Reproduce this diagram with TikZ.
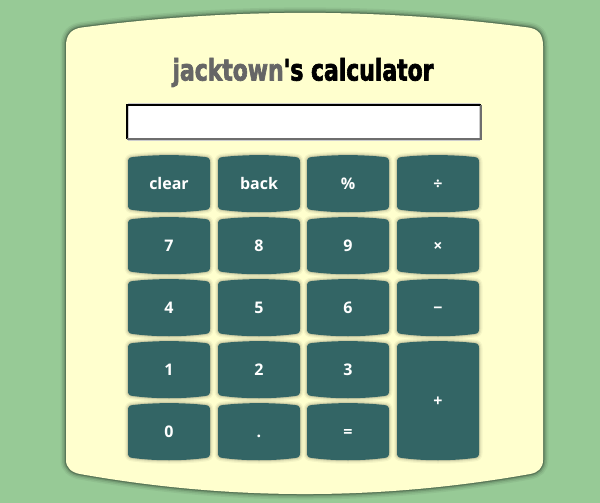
\documentclass[tikz,border=0pt]{standalone}
\usepackage{fontspec}
\usepackage{tikz}
\usetikzlibrary{positioning}
\newfontfamily\titlefont{DejaVu Sans Condensed}[FakeBold=2.5]
\newfontfamily\keyfont{Open Sans}
\definecolor{pagegreen}{RGB}{151,202,150}
\definecolor{bodycream}{RGB}{255,255,206}
\definecolor{keyteal}{RGB}{51,101,101}
\definecolor{titlegray}{RGB}{102,102,102}

\begin{document}
\begin{tikzpicture}[x=1pt,y=1pt,yscale=-1,xscale=1,
  bodyshade/.style={preaction={draw=black,line width=11,draw opacity=0.05},preaction={draw=black,line width=8,draw opacity=0.08},preaction={draw=black,line width=5,draw opacity=0.12},preaction={draw=black,line width=2.5,draw opacity=0.22}},
  keyface/.style={fill=keyteal,preaction={draw=black,line width=7,draw opacity=0.04},preaction={draw=black,line width=4.5,draw opacity=0.06},preaction={draw=black,line width=2,draw opacity=0.1}},
  keytext/.style={text=white,inner sep=0pt,text height=11.6pt,text depth=0pt,font=\keyfont\bfseries\fontsize{16}{18}\selectfont}]
    \useasboundingbox (0,0) rectangle (600,503);

%Shape: Page
\fill[pagegreen] (0,0) rectangle (600,503);
%Shape: Body
\fill[bodycream,bodyshade] (66,46) .. controls (66,34) and (72,28.8) .. (82,27.5) .. controls (230.7,8) and (379.3,8) .. (528,27.5) .. controls (538,28.8) and (543,34) .. (543,46) -- (543,460) .. controls (543,468) and (538,472.6) .. (530,474) .. controls (380,500.7) and (230,500.7) .. (80,474) .. controls (72,472.6) and (66,468) .. (66,460) -- cycle ;

% Text Node
\node[anchor=base,inner sep=0pt] (title) at (303,80.5) {\resizebox{261pt}{22.5pt}{\titlefont\bfseries\textcolor{titlegray}{jacktown}'s calculator}};

%Shape: Screen
\node[fill=white,minimum width=354,minimum height=34,inner sep=0pt] (screen) at (304,122) {};
\draw[line width=1,color={rgb,255:red,205;green,205;blue,205}] ([shift={(1.5,1.5)}]screen.south west) rectangle ([shift={(-1.5,-1.5)}]screen.north east);
\draw[line width=2,black] (screen.south west) -- (screen.north west) -- (screen.north east);
\draw[line width=2,color={rgb,255:red,110;green,110;blue,110}] (screen.north east) -- (screen.south east) -- (screen.south west);

%Shape: Keys
\foreach \kx/\ky/\kh/\lab/\nm in {128/157/53/clear/kclear,218/157/53/back/kback,307/157/53/\%/kpercent,397/157/53/÷/kdivide,
    128/219/53/7/kseven,218/219/53/8/keight,307/219/53/9/knine,397/219/53/×/ktimes,
    128/281/53/4/kfour,218/281/53/5/kfive,307/281/53/6/ksix,397/281/53/−/kminus,
    128/343/53/1/kone,218/343/53/2/ktwo,307/343/53/3/kthree,397/343/115/+/kplus,
    128/405/53/0/kzero,218/405/53/./kpoint,307/405/53/=/kequals}
{
  \fill[keyface] (\kx,\ky+5) .. controls (\kx,\ky+1.5) and (\kx+1.5,\ky+0.3) .. (\kx+5,\ky) .. controls (\kx+27,\ky-2.5) and (\kx+55,\ky-2.5) .. (\kx+77,\ky) .. controls (\kx+80.5,\ky+0.3) and (\kx+82,\ky+1.5) .. (\kx+82,\ky+5) -- (\kx+82,\ky+\kh-5) .. controls (\kx+82,\ky+\kh-1.5) and (\kx+80.5,\ky+\kh-0.3) .. (\kx+77,\ky+\kh) .. controls (\kx+55,\ky+\kh+3) and (\kx+27,\ky+\kh+3) .. (\kx+5,\ky+\kh) .. controls (\kx+1.5,\ky+\kh-0.3) and (\kx,\ky+\kh-1.5) .. (\kx,\ky+\kh-5) -- cycle ;
  \node[keytext] (\nm) at (\kx+41,\ky+\kh/2) {\lab};
}

\end{tikzpicture}
\end{document}
